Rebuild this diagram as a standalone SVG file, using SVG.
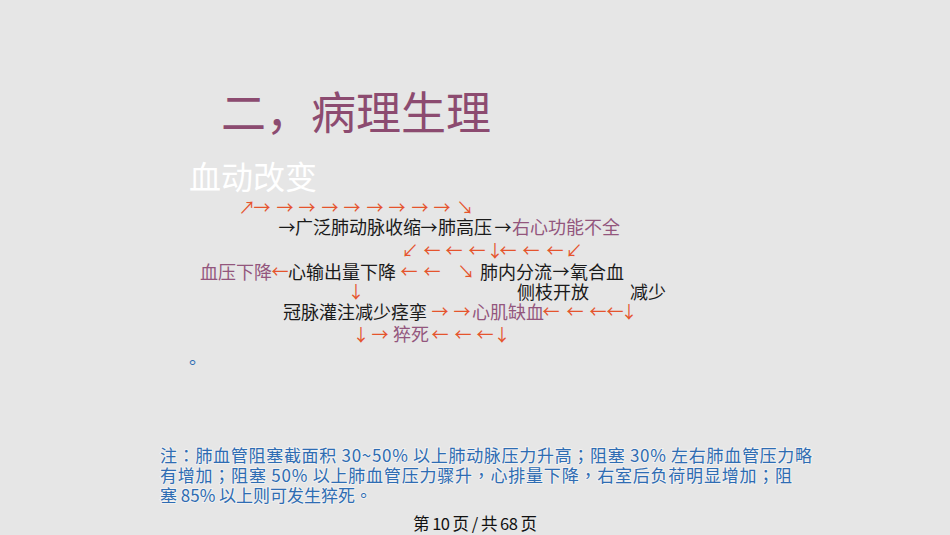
<svg xmlns="http://www.w3.org/2000/svg" width="950" height="535" viewBox="0 0 950 535">
<style>
text{font-family:"Noto Sans CJK SC","Liberation Sans",sans-serif;}
.n{font-size:18px;fill:#1a1a1a;}
.p{font-size:18px;fill:#93567d;}
.a{font-family:"Noto Sans CJK SC","DejaVu Sans",sans-serif;font-size:17px;fill:#e5542d;text-anchor:middle;}
.ab{font-family:"Noto Sans CJK SC","DejaVu Sans",sans-serif;font-size:17px;fill:#1a1a1a;text-anchor:middle;}
.note{font-family:"Noto Sans CJK TC","Noto Sans CJK SC",sans-serif;font-size:17px;fill:#2e6cb3;stroke:#ffffff;stroke-opacity:0.45;stroke-width:2px;paint-order:stroke;}
</style>
<rect x="0" y="0" width="950" height="535" fill="#e6e6e6"/>
<g id="title"><text x="221" y="130" font-size="45" fill="#8c4b70" font-family="Noto Sans CJK TC, Noto Sans CJK SC, sans-serif">二，病理生理</text></g>
<g id="subtitle"><text x="189" y="189" font-size="32" fill="#ffffff">血动改变</text></g>

<g id="node-guangfan"><text class="n" x="295" y="234">广泛肺动脉收缩</text></g>
<g id="node-feigaoya"><text class="n" x="438" y="234">肺高压</text></g>
<g id="node-youxin"><text class="p" x="512" y="234">右心功能不全</text></g>
<g id="node-xueya"><text class="p" x="200" y="279">血压下降</text></g>
<g id="node-xinshuchu"><text class="n" x="288" y="279">心输出量下降</text></g>
<g id="node-feinei"><text class="n" x="480" y="279">肺内分流</text></g>
<g id="node-yanghe"><text class="n" x="570" y="279">氧合血</text></g>
<g id="node-cezhi"><text class="n" x="517" y="299">侧枝开放</text></g>
<g id="node-jianshao"><text class="n" x="630" y="299">减少</text></g>
<g id="node-guanmai"><text class="n" x="283" y="319">冠脉灌注减少痉挛</text></g>
<g id="node-xinji"><text class="p" x="472" y="319">心肌缺血</text></g>
<g id="node-cusi"><text class="p" x="393" y="341">猝死</text></g>
<g id="node-dot"><text x="189" y="364" font-size="18" fill="#2e6cb3">。</text></g>

<g id="connectors">
<text class="a" x="247" y="214">↗</text>
<text class="a" x="262" y="214">→</text>
<text class="a" x="285" y="214">→</text>
<text class="a" x="307" y="214">→</text>
<text class="a" x="330" y="214">→</text>
<text class="a" x="352" y="214">→</text>
<text class="a" x="375" y="214">→</text>
<text class="a" x="397" y="214">→</text>
<text class="a" x="420" y="214">→</text>
<text class="a" x="442" y="214">→</text>
<text class="a" x="465" y="214">↘</text>
<text class="ab" x="287" y="234">→</text>
<text class="ab" x="429" y="234">→</text>
<text class="ab" x="503" y="234">→</text>
<text class="a" x="410" y="257">↙</text>
<text class="a" x="432" y="257">←</text>
<text class="a" x="454" y="257">←</text>
<text class="a" x="477" y="257">←</text>
<text class="a" x="495" y="257">↓</text>
<text class="a" x="508" y="257">←</text>
<text class="a" x="531" y="257">←</text>
<text class="a" x="555" y="257">←</text>
<text class="a" x="574" y="257">↙</text>
<text class="a" x="280" y="278">←</text>
<text class="a" x="409" y="278">←</text>
<text class="a" x="432" y="278">←</text>
<text class="a" x="466" y="278">↘</text>
<text class="ab" x="561" y="278">→</text>
<text class="a" x="356" y="298">↓</text>
<text class="a" x="440" y="318">→</text>
<text class="a" x="462" y="318">→</text>
<text class="a" x="551" y="318">←</text>
<text class="a" x="575" y="318">←</text>
<text class="a" x="598" y="318">←</text>
<text class="a" x="615" y="318">←</text>
<text class="a" x="629" y="318">↓</text>
<text class="a" x="361" y="341">↓</text>
<text class="a" x="380" y="341">→</text>
<text class="a" x="440" y="341">←</text>
<text class="a" x="463" y="341">←</text>
<text class="a" x="485" y="341">←</text>
<text class="a" x="502" y="341">↓</text>
</g>

<g id="note">
<text class="note" x="160" y="462" textLength="652" lengthAdjust="spacing">注：肺血管阻塞截面积 30~50% 以上肺动脉压力升高；阻塞 30% 左右肺血管压力略</text>
<text class="note" x="160" y="482" textLength="632" lengthAdjust="spacing">有增加；阻塞 50% 以上肺血管压力骤升，心排量下降，右室后负荷明显增加；阻</text>
<text class="note" x="160" y="502" textLength="212" lengthAdjust="spacing">塞 85% 以上则可发生猝死。</text>
</g>
<g id="footer"><text x="413" y="530" font-size="16.5" fill="#111111" textLength="124" lengthAdjust="spacing">第 10 页 / 共 68 页</text></g>
</svg>
